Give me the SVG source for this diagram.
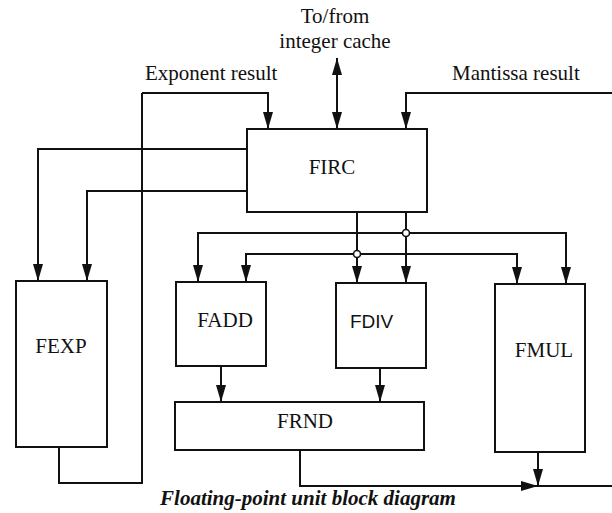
<svg xmlns="http://www.w3.org/2000/svg" width="612" height="513" viewBox="0 0 612 513">
<style>
.box{fill:none;stroke:#111;stroke-width:2}
.ln{fill:none;stroke:#111;stroke-width:2}
.arr{marker-end:url(#ah)}
.t{font-family:"Liberation Serif","Times New Roman",serif;font-size:21px;fill:#111}
.c{text-anchor:middle}
.jn{fill:#fff;stroke:#111;stroke-width:1.6}
</style>
<defs>
<marker id="ah" markerUnits="userSpaceOnUse" markerWidth="18" markerHeight="10" refX="17" refY="5" orient="auto-start-reverse">
<path d="M0,0 L17,5 L0,10 z" fill="#111"/>
</marker>
</defs>
<rect width="612" height="513" fill="#fff"/>
<g id="labels">
<text class="t c" x="335" y="23">To/from</text>
<text class="t c" x="335" y="48">integer cache</text>
<text class="t" x="145" y="80">Exponent result</text>
<text class="t" x="452" y="80">Mantissa result</text>
<text class="t c" x="308" y="505" style="font-weight:bold;font-style:italic">Floating-point unit block diagram</text>
</g>
<g id="connectors">
<path class="ln arr" d="M142,93 H268 V129"/>
<path class="ln" d="M142,93 V483 H59 V447"/>
<path class="ln arr" d="M337,58 V129" style="marker-start:url(#ah)"/>
<path class="ln arr" d="M612,93 H406 V129"/>
<path class="ln arr" d="M247,149 H38 V281"/>
<path class="ln arr" d="M247,191 H87 V281"/>
<path class="ln arr" d="M357,212 V283"/>
<path class="ln arr" d="M406,212 V283"/>
<path class="ln arr" d="M406,233 H198 V282"/>
<path class="ln arr" d="M406,233 H566 V284"/>
<path class="ln arr" d="M357,254 H246 V282"/>
<path class="ln arr" d="M357,254 H517 V284"/>
<path class="ln arr" d="M221,366 V402"/>
<path class="ln arr" d="M380,368 V402"/>
<path class="ln arr" d="M300,450 V486 H538"/>
<path class="ln arr" d="M538,452 V486"/>
<path class="ln" d="M538,486 H612"/>
<circle class="jn" cx="406" cy="233" r="3.5"/>
<circle class="jn" cx="357" cy="254" r="3.5"/>
</g>
<g id="FIRC">
<rect class="box" x="247" y="129" width="180" height="83"/>
<text class="t c" x="332" y="174">FIRC</text>
</g>
<g id="FEXP">
<rect class="box" x="16" y="281" width="91" height="166"/>
<text class="t c" x="61" y="353">FEXP</text>
</g>
<g id="FADD">
<rect class="box" x="176" y="282" width="90" height="84"/>
<text class="t c" x="225" y="327">FADD</text>
</g>
<g id="FDIV">
<rect class="box" x="336" y="283" width="90" height="85"/>
<text class="t" x="350" y="328" style="font-family:'Liberation Sans',Arial,sans-serif;font-size:19px">FDIV</text>
</g>
<g id="FMUL">
<rect class="box" x="495" y="284" width="90" height="168"/>
<text class="t c" x="544" y="357">FMUL</text>
</g>
<g id="FRND">
<rect class="box" x="175" y="402" width="249" height="48"/>
<text class="t c" x="305" y="428">FRND</text>
</g>
</svg>
